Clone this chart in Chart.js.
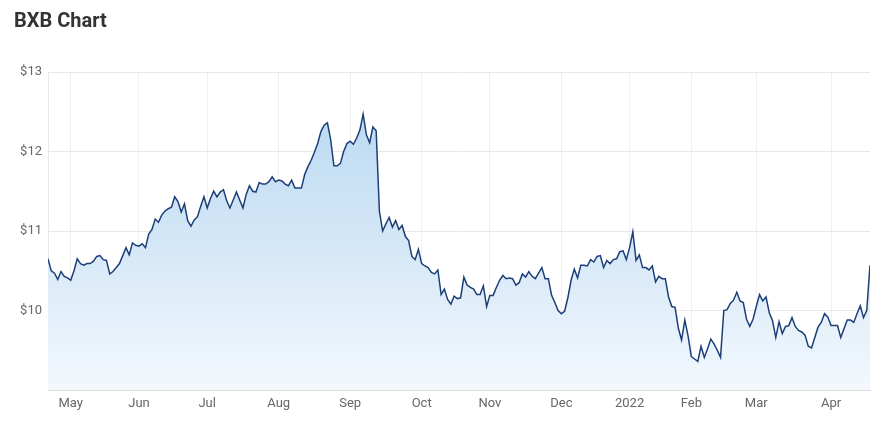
<!DOCTYPE html>
<html><head><meta charset="utf-8">
<script src="https://cdn.jsdelivr.net/npm/chart.js@4.4.1/dist/chart.umd.min.js"></script>
<style>
html,body{margin:0;padding:0;background:#fff;}
#wrap{position:relative;width:881px;height:425px;overflow:hidden;}
#title{position:absolute;left:14px;top:10px;font-family:Roboto, sans-serif;font-weight:bold;font-size:20px;line-height:20px;color:#333;}
canvas{position:absolute;left:0;top:0;}
</style></head><body>
<div id="wrap"><canvas id="c" width="881" height="425"></canvas><div id="title">BXB Chart</div></div>
<script>
// Daily closing prices (one per trading day, 22 Apr 2021 – 20 Apr 2022)
const prices = [
10.65,10.50,10.47,10.39,10.49,10.43,10.41,10.38,10.50,10.65,
10.59,10.57,10.59,10.59,10.62,10.68,10.69,10.64,10.63,10.46,
10.49,10.54,10.59,10.69,10.79,10.70,10.85,10.82,10.81,10.84,
10.79,10.96,11.02,11.15,11.11,11.20,11.25,11.28,11.30,11.43,
11.37,11.24,11.34,11.13,11.06,11.14,11.18,11.31,11.43,11.29,
11.41,11.50,11.43,11.49,11.52,11.38,11.29,11.39,11.49,11.39,
11.29,11.46,11.57,11.50,11.49,11.61,11.59,11.59,11.62,11.68,
11.62,11.64,11.63,11.59,11.57,11.64,11.54,11.54,11.54,11.71,
11.81,11.89,11.99,12.10,12.25,12.33,12.36,12.15,11.82,11.82,
11.85,12.00,12.10,12.13,12.09,12.17,12.27,12.47,12.21,12.11,
12.31,12.26,11.25,11.00,11.09,11.17,11.05,11.13,11.02,11.07,
10.93,10.88,10.68,10.64,10.77,10.59,10.56,10.54,10.48,10.46,
10.51,10.20,10.27,10.14,10.08,10.18,10.15,10.16,10.42,10.32,
10.29,10.27,10.20,10.20,10.31,10.05,10.19,10.19,10.29,10.38,
10.44,10.40,10.41,10.40,10.32,10.35,10.46,10.42,10.49,10.43,
10.40,10.47,10.54,10.40,10.40,10.19,10.10,10.00,9.96,9.99,
10.16,10.38,10.52,10.41,10.57,10.57,10.56,10.64,10.61,10.68,
10.69,10.54,10.63,10.59,10.64,10.65,10.74,10.75,10.64,10.79,
10.99,10.63,10.70,10.54,10.54,10.51,10.56,10.36,10.43,10.40,
10.40,10.17,10.05,10.04,9.78,9.63,9.88,9.68,9.42,9.39,
9.36,9.55,9.41,9.52,9.64,9.58,9.50,9.41,10.00,10.01,
10.09,10.13,10.23,10.12,10.10,9.89,9.80,9.89,10.05,10.20,
10.12,10.17,9.97,9.87,9.66,9.86,9.71,9.80,9.81,9.91,
9.80,9.75,9.73,9.69,9.55,9.53,9.66,9.79,9.85,9.96,
9.92,9.81,9.81,9.81,9.66,9.77,9.88,9.88,9.85,9.96,
10.06,9.91,10.00,10.57
];
// First trading day of each month (index into prices) and its label
const monthTickIndex  = [7, 28, 49, 71, 93, 115, 136, 158, 179, 198, 218, 241];
const monthTickLabels = ['May','Jun','Jul','Aug','Sep','Oct','Nov','Dec','2022','Feb','Mar','Apr'];
const yTickValues = [9, 10, 11, 12, 13];
const yTickLabels = ['', '$10', '$11', '$12', '$13'];

const points = prices.map((p, i) => ({x: i, y: p}));

function areaFill(context) {
  const chart = context.chart;
  const area = chart.chartArea;
  if (!area) return 'rgba(190,220,242,0.6)';
  const g = chart.ctx.createLinearGradient(0, area.top, 0, area.bottom);
  g.addColorStop(0, 'rgb(180,214,241)');
  g.addColorStop(0.5, 'rgb(210,230,246)');
  g.addColorStop(1, 'rgb(243,248,253)');
  return g;
}

new Chart(document.getElementById('c'), {
  type: 'line',
  data: {
    datasets: [{
      data: points,
      borderColor: '#1d3f77',
      borderWidth: 1.5,
      pointRadius: 0,
      tension: 0,
      fill: 'start',
      backgroundColor: areaFill
    }]
  },
  options: {
    responsive: false,
    animation: false,
    layout: { padding: { left: 0, right: 11, top: 72, bottom: 0 } },
    plugins: { legend: { display: false }, tooltip: { enabled: false }, title: { display: false } },
    scales: {
      x: {
        type: 'linear',
        min: 0,
        max: prices.length - 1,
        afterBuildTicks: (s) => { s.ticks = monthTickIndex.map(v => ({value: v})); },
        afterFit: (s) => { s.height = 35; },
        ticks: {
          autoSkip: false,
          maxRotation: 0,
          padding: 6,
          color: '#666',
          font: { family: 'Roboto, sans-serif', size: 13 },
          callback: (v) => { const k = monthTickIndex.indexOf(v); return k >= 0 ? monthTickLabels[k] : ''; }
        },
        grid: { color: '#f0f0f0', drawTicks: false },
        border: { color: '#dcdcdc' }
      },
      y: {
        min: 9,
        max: 13,
        afterBuildTicks: (s) => { s.ticks = yTickValues.map(v => ({value: v})); },
        afterFit: (s) => { s.width = 48; },
        ticks: {
          padding: 6,
          color: '#666',
          font: { family: 'Roboto, sans-serif', size: 13 },
          callback: (v) => { const k = yTickValues.indexOf(v); return k >= 0 ? yTickLabels[k] : ''; }
        },
        grid: { color: '#e8e8e8', drawTicks: false },
        border: { color: '#e8e8e8' }
      }
    }
  }
});
</script>
</body></html>
